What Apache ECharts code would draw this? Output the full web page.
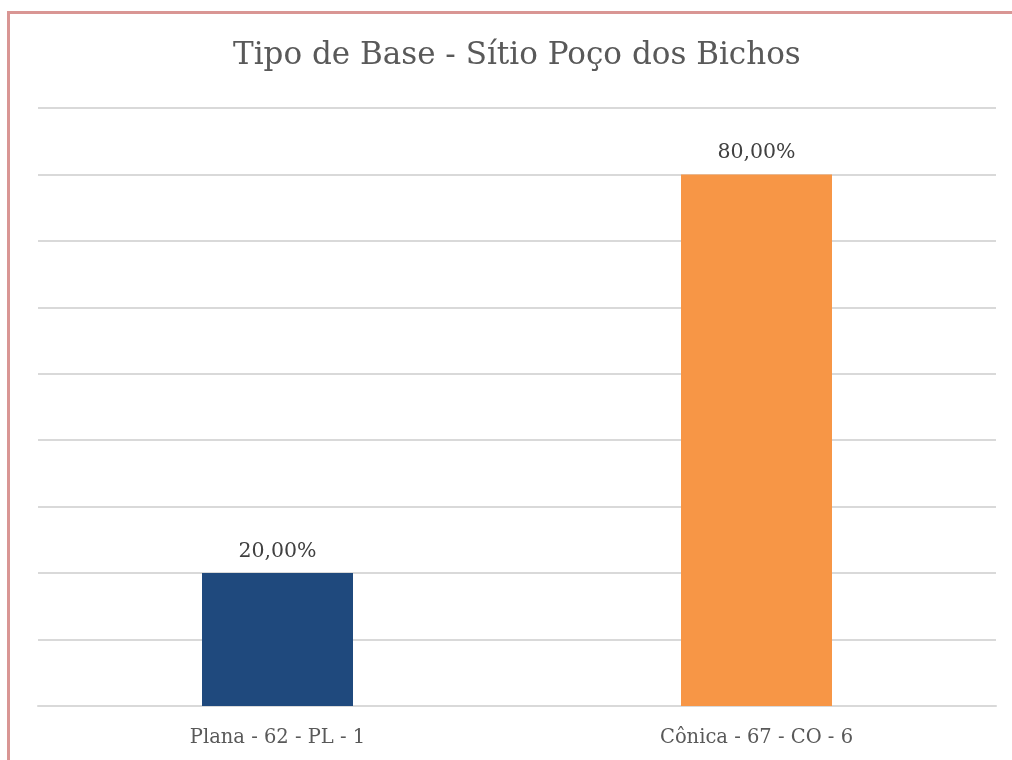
<!DOCTYPE html>
<html><head><meta charset="utf-8">
<script src="https://cdn.jsdelivr.net/npm/echarts@6/dist/echarts.min.js"></script>
<style>html,body{margin:0;padding:0;background:#fff}#c{width:1012px;height:760px}</style>
</head><body><div id="c"></div>
<script>
const categories = ['Plana - 62 - PL - 1', 'Cônica - 67 - CO - 6'];
const values = [0.20, 0.80];
const barColors = ['#1f497d', '#f79646'];
const titleText = 'Tipo de Base - Sítio Poço dos Bichos';

const chart = echarts.init(document.getElementById('c'));
const serif = '"DejaVu Serif", "Liberation Serif", serif';
chart.setOption({
  animation: false,
  backgroundColor: '#fff',
  title: {
    text: titleText, left: 228, top: 35,
    textStyle: { fontFamily: serif, fontSize: 31, fontWeight: 'normal', color: '#595959' }
  },
  graphic: [{
    type: 'rect', silent: true, z: 100,
    shape: { x: 8.5, y: 12.5, width: 1200, height: 1000 },
    style: { fill: 'none', stroke: '#d99694', lineWidth: 3 }
  }],
  grid: { left: 38, right: 16, top: 108, bottom: 54, containLabel: false },
  xAxis: {
    type: 'category', data: categories,
    axisLine: { lineStyle: { color: '#d9d9d9', width: 2 } },
    axisTick: { show: false },
    axisLabel: { fontFamily: serif, fontSize: 19.5, color: '#595959', margin: 22 }
  },
  yAxis: {
    type: 'value', min: 0, max: 0.9, interval: 0.1,
    axisLabel: { show: false }, axisLine: { show: false }, axisTick: { show: false },
    splitLine: { lineStyle: { color: '#d9d9d9', width: 2 } }
  },
  series: [{
    type: 'bar', barWidth: 151,
    data: values.map((v, i) => ({ value: v, itemStyle: { color: barColors[i] } })),
    label: {
      show: true, position: 'top', distance: 11,
      fontFamily: serif, fontSize: 20.5, color: '#404040',
      formatter: p => (p.value * 100).toFixed(2).replace('.', ',') + '%'
    }
  }]
});
</script></body></html>
